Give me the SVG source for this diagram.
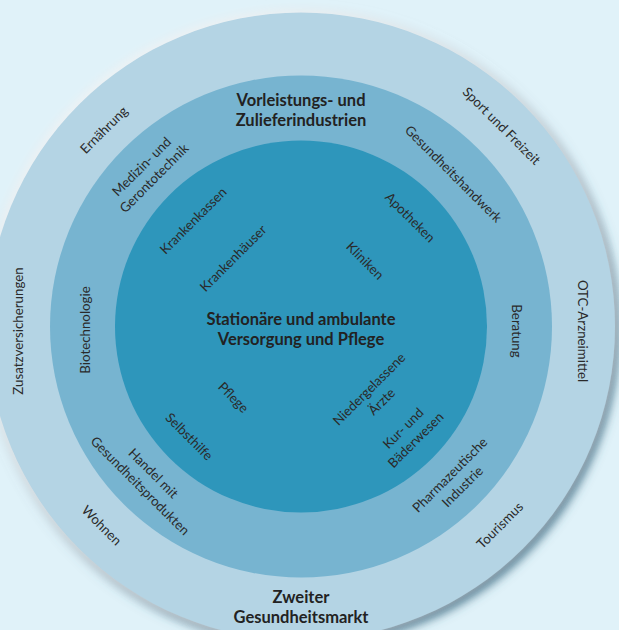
<svg xmlns="http://www.w3.org/2000/svg" width="619" height="630" viewBox="0 0 619 630">
  <style>
    .lbl { font-family: Lato, "Open Sans", "Liberation Sans", sans-serif; font-size: 13.3px; fill: #2a2a2a; text-anchor: middle; }
    .ttl { font-family: Lato, "Open Sans", "Liberation Sans", sans-serif; font-size: 16.5px; font-weight: bold; fill: #222; text-anchor: middle; }
  </style>
  <defs>
    <filter id="shadow" x="-10%" y="-10%" width="125%" height="125%">
      <feDropShadow dx="-3" dy="-3" stdDeviation="4" flood-color="#ffffff" flood-opacity="0.7" result="hl"/>
      <feDropShadow dx="4" dy="5" stdDeviation="5" flood-color="#35657c" flood-opacity="0.8"/>
    </filter>
  </defs>
  <rect x="0" y="0" width="619" height="630" fill="#e0f2f9"/>

  <g id="ring-outer">
    <circle cx="301" cy="326.5" r="314" fill="#b4d4e4" filter="url(#shadow)"/>
  </g>
  <g id="ring-middle">
    <circle cx="301" cy="326.5" r="251" fill="#77b4d0"/>
  </g>
  <g id="ring-inner">
    <circle cx="301" cy="326.5" r="186" fill="#2e96bb"/>
  </g>

  <g id="titles">
    <text class="ttl" x="301" y="106">Vorleistungs- und</text>
    <text class="ttl" x="301" y="126">Zulieferindustrien</text>
    <text class="ttl" x="301" y="325">Stationäre und ambulante</text>
    <text class="ttl" x="301" y="345">Versorgung und Pflege</text>
    <text class="ttl" x="301" y="603">Zweiter</text>
    <text class="ttl" x="301" y="623">Gesundheitsmarkt</text>
  </g>

  <g id="outer-labels">
    <text class="lbl" transform="translate(104,130) rotate(-45)" y="4.5">Ernährung</text>
    <text class="lbl" transform="translate(501.5,126) rotate(45)" y="4.5">Sport und Freizeit</text>
    <text class="lbl" transform="translate(18,331) rotate(-90)" y="4.5">Zusatzversicherungen</text>
    <text class="lbl" transform="translate(582.5,331) rotate(90)" y="4.5">OTC-Arzneimittel</text>
    <text class="lbl" transform="translate(101.5,525.5) rotate(45)" y="4.5">Wohnen</text>
    <text class="lbl" transform="translate(500,525.5) rotate(-45)" y="4.5">Tourismus</text>
  </g>

  <g id="middle-labels">
    <text class="lbl" transform="translate(141.7,166.7) rotate(-45)" y="4.5">Medizin- und</text>
    <text class="lbl" transform="translate(154.2,178.3) rotate(-45)" y="4.5">Gerontotechnik</text>
    <text class="lbl" transform="translate(453.3,174) rotate(45)" y="4.5">Gesundheitshandwerk</text>
    <text class="lbl" transform="translate(85,330) rotate(-90)" y="4.5">Biotechnologie</text>
    <text class="lbl" transform="translate(516.7,331) rotate(90)" y="4.5">Beratung</text>
    <text class="lbl" transform="translate(153.3,473.3) rotate(45)" y="4.5">Handel mit</text>
    <text class="lbl" transform="translate(140,485.8) rotate(45)" y="4.5">Gesundheitsprodukten</text>
    <text class="lbl" transform="translate(450,475) rotate(-45)" y="4.5">Pharmazeutische</text>
    <text class="lbl" transform="translate(462.5,486.7) rotate(-45)" y="4.5">Industrie</text>
  </g>

  <g id="inner-labels">
    <text class="lbl" transform="translate(193.3,220.8) rotate(-45)" y="4.5">Krankenkassen</text>
    <text class="lbl" transform="translate(233.3,258.3) rotate(-45)" y="4.5">Krankenhäuser</text>
    <text class="lbl" transform="translate(410,217.5) rotate(45)" y="4.5">Apotheken</text>
    <text class="lbl" transform="translate(365,260.8) rotate(45)" y="4.5">Kliniken</text>
    <text class="lbl" transform="translate(233.3,397.5) rotate(45)" y="4.5">Pflege</text>
    <text class="lbl" transform="translate(189,436.7) rotate(45)" y="4.5">Selbsthilfe</text>
    <text class="lbl" transform="translate(369.2,389.2) rotate(-45)" y="4.5">Niedergelassene</text>
    <text class="lbl" transform="translate(381.7,401.7) rotate(-45)" y="4.5">Ärzte</text>
    <text class="lbl" transform="translate(403.3,428.3) rotate(-45)" y="4.5">Kur- und</text>
    <text class="lbl" transform="translate(415.8,440) rotate(-45)" y="4.5">Bäderwesen</text>
  </g>
</svg>
